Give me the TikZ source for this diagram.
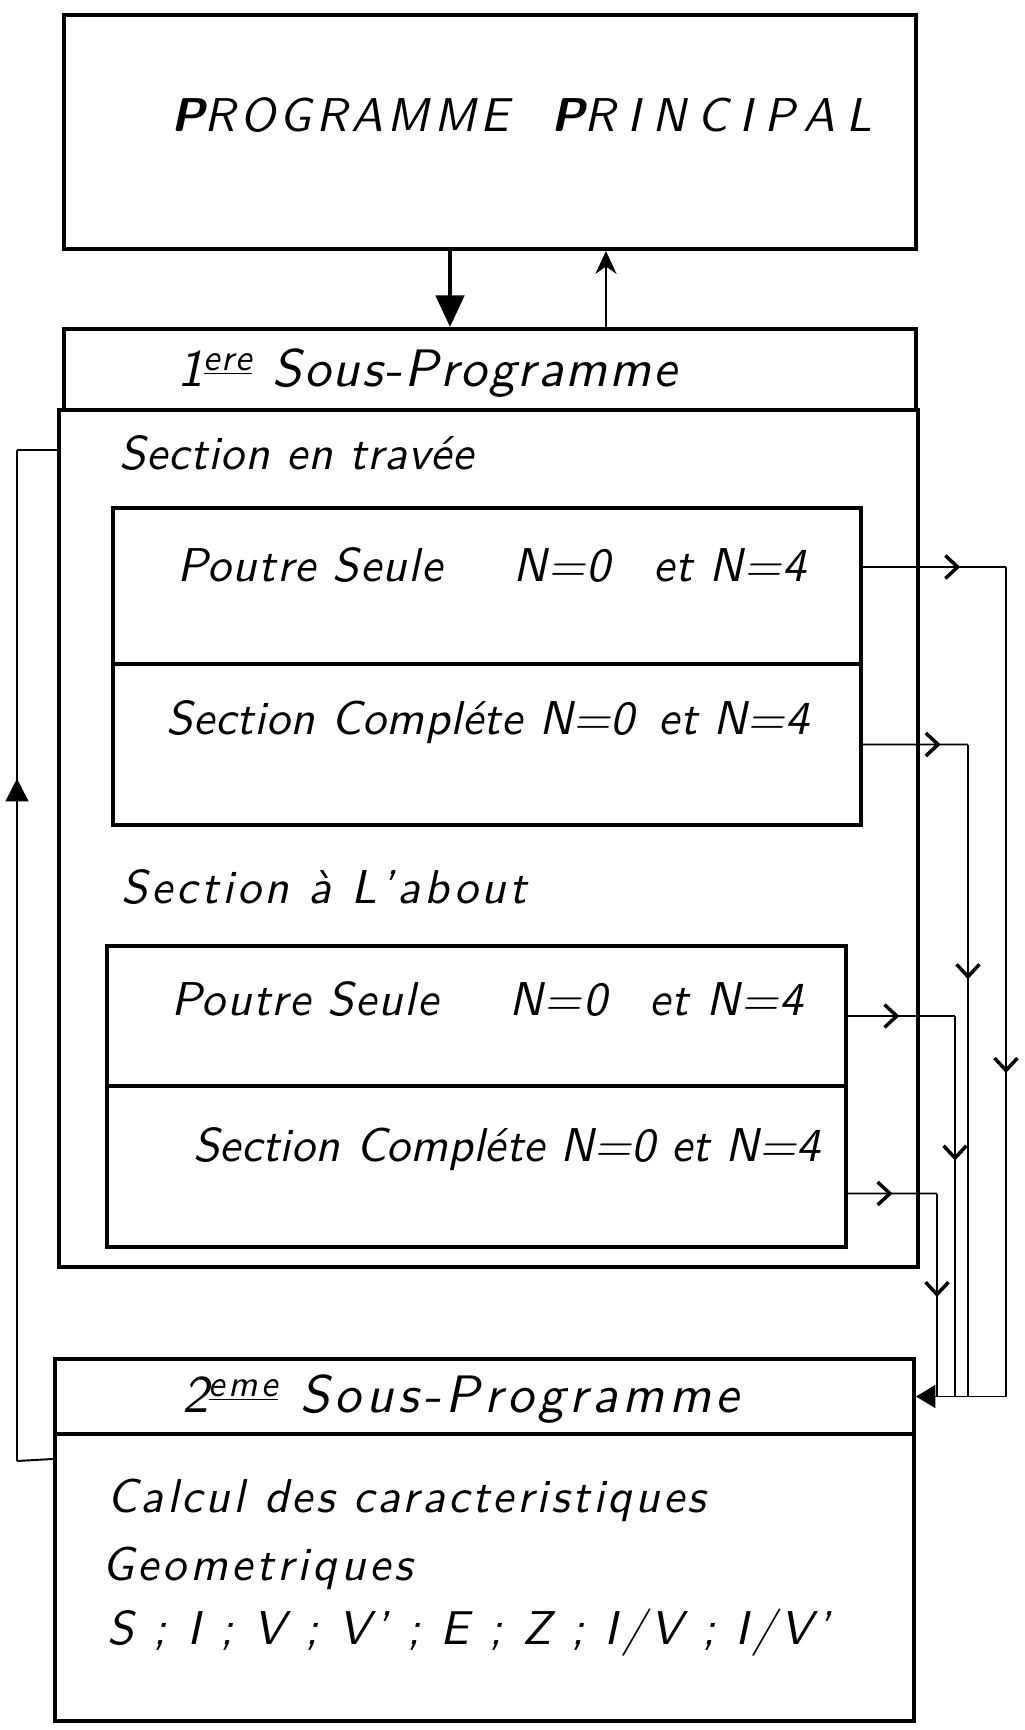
\documentclass[tikz,border=0pt]{standalone}
\usepackage{fontspec}
\setsansfont{lmsans10-regular.otf}[ItalicFont=lmsans10-oblique.otf,BoldFont=lmsans10-bold.otf,BoldItalicFont=lmsans10-boldoblique.otf]
\usetikzlibrary{arrows.meta,fit,decorations.markings}
\begin{document}
\begin{tikzpicture}[x=0.02cm,y=-0.02cm,
box/.style={draw,line width=2.3pt,inner sep=0pt},
txt/.style={anchor=base west,inner sep=0pt,font=\fontsize{27}{32}\selectfont\sffamily\itshape\addfontfeature{LetterSpace=#1}},
txt/.default=0,
hdr/.style={anchor=base west,inner sep=0pt,font=\fontsize{30}{36}\selectfont\sffamily\itshape\addfontfeature{LetterSpace=#1}},
wire/.style={line width=1.1pt},
chev/.style={postaction={decorate},decoration={markings,mark=at position #1 with {\arrow{Straight Barb[length=7pt,width=13pt,line width=2pt]}}}},
tri/.style={postaction={decorate},decoration={markings,mark=at position #1 with {\arrow{Triangle[length=13pt,width=13pt]}}}}]
\path[use as bounding box](0,0)rectangle(1024,1730);
\node[box,fit={(64,15)(916,249)}](tp){};
\node[box,fit={(64,329)(916,410)}](s1){};
\node[box,fit={(59,410)(918,1267)}](s1b){};
\node[box,fit={(113,508)(861,664)}](tr1){};
\node[box,fit={(113,664)(861,825)}](tr2){};
\node[box,fit={(107,946)(846,1086)}](ab1){};
\node[box,fit={(107,1086)(846,1247)}](ab2){};
\node[box,fit={(55,1359)(914,1434)}](s2){};
\node[box,fit={(55,1434)(914,1721)}](s2b){};
\node[txt=10](tpl)at(171,132){{\bfseries P}ROGRAMME\hspace*{0.9em}{\addfontfeature{LetterSpace=25}{\bfseries P}RINCIPAL}};
\node[hdr=4.2](s1l)at(177,386){1\textsuperscript{\underline{ere}} Sous-Programme};
\node[txt=1.8](trl)at(119,469){Section en travée};
\node[txt=2.8](tr1l)at(177,581){Poutre Seule\hspace*{1.5em}N=0\hspace*{0.9em}et N=4};
\node[txt=1.3](tr2l)at(166,734){Section Compléte N=0\hspace*{0.5em}et N=4};
\node[txt=8](abl)at(121,903){Section à L'about};
\node[txt=3.2](ab1l)at(171,1015){Poutre Seule\hspace*{1.5em}N=0\hspace*{0.9em}et N=4};
\node[txt=0.5](ab2l)at(193,1161){Section Compléte N=0 et N=4};
\node[hdr=9.2](s2l)at(182,1412){2\textsuperscript{\underline{eme}} Sous-Programme};
\node[txt=6.9](s2a)at(107,1512){Calcul des caracteristiques};
\node[txt=8.1](s2c)at(102,1580){Geometriques};
\node[txt=9](s2d)at(107,1644){S ; I ; V ; V' ; E ; Z ; I/V ; I/V'};
\draw[line width=2.6pt,-{Triangle[length=18pt,width=16pt]}]([xshift=-0.8cm]tp.south)--([xshift=-0.8cm]s1.north);
\draw[line width=1.2pt,-{Stealth[length=13pt,width=12pt]}]([xshift=2.32cm]s1.north)--([xshift=2.32cm]tp.south);
\coordinate(c1)at(1006,567);
\coordinate(c2)at(968,744.5);
\coordinate(c3)at(955,1016);
\coordinate(c4)at(937,1193.5);
\draw[wire,chev=0.68]([yshift=0.38cm]tr1.east)--(c1);
\draw[wire,chev=0.61](c1)--(c1 |- s2.east);
\draw[wire,-{Triangle[length=11pt,width=13pt]}](c1 |- s2.east)--(s2.east);
\draw[wire,chev=0.74](tr2.east)--(c2);
\draw[wire,chev=0.36](c2)--(c2 |- s2.east);
\draw[wire,chev=0.48](ab1.east)--(c3);
\draw[wire,chev=0.38](c3)--(c3 |- s2.east);
\draw[wire,chev=0.5]([yshift=-0.54cm]ab2.east)--(c4);
\draw[wire,chev=0.51](c4)--(c4 |- s2.east);
\coordinate(r1)at(17,1461);
\coordinate(r2)at(17,450);
\draw[wire]([yshift=-0.54cm]s2b.north west)--(r1);
\draw[wire,tri=0.675](r1)--(r2);
\draw[wire](r2)--(s1b.west |- r2);
\end{tikzpicture}
\end{document}
